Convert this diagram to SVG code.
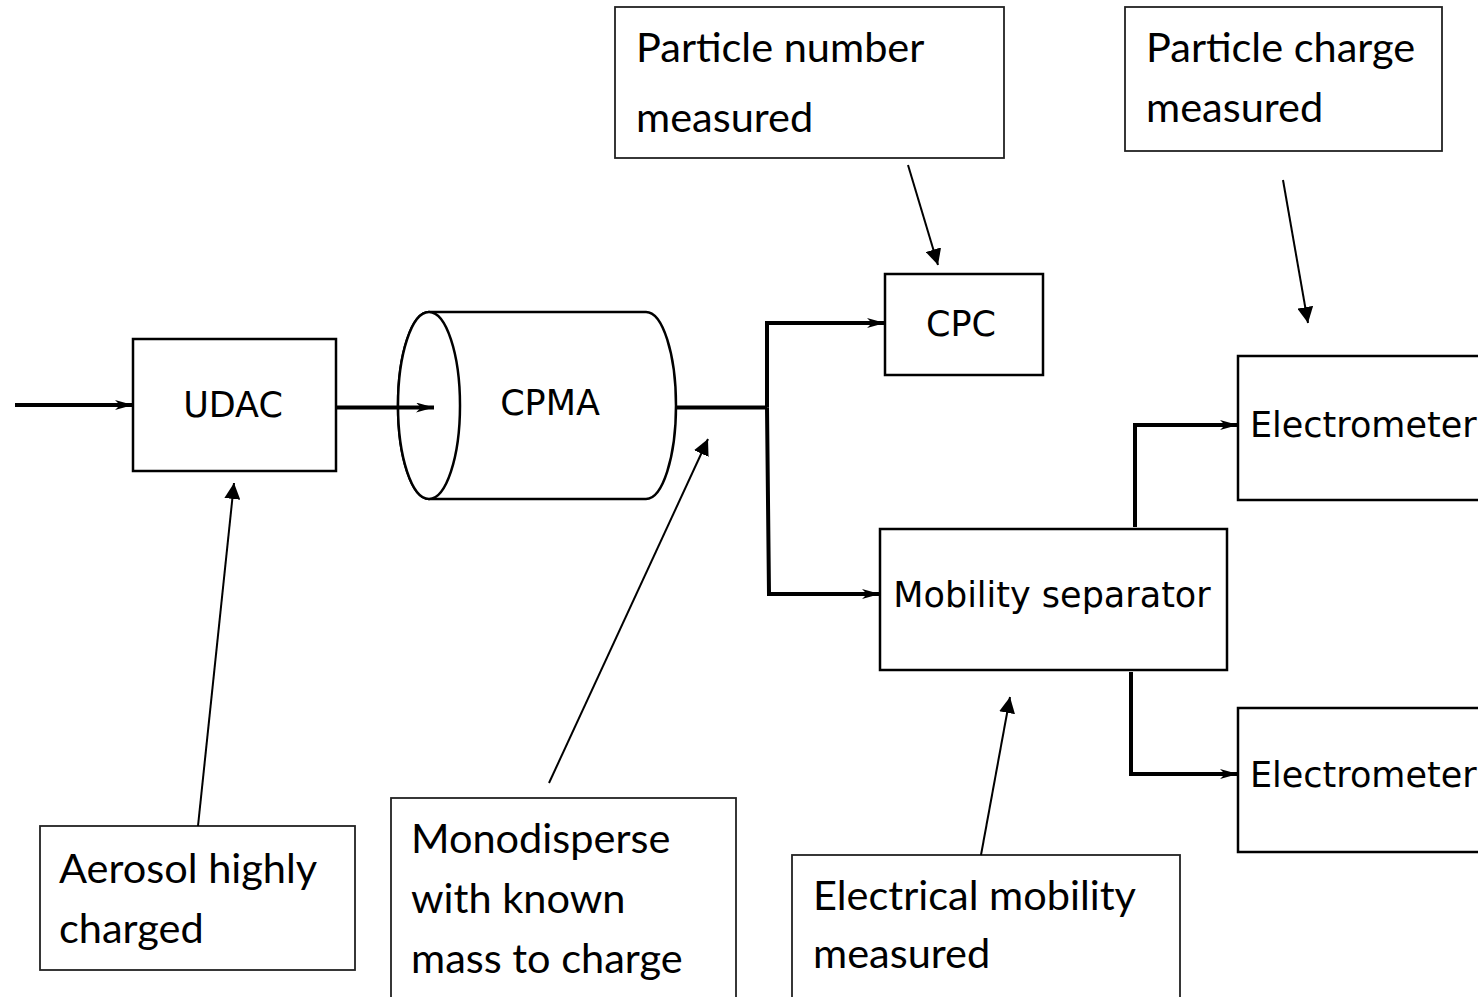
<svg xmlns="http://www.w3.org/2000/svg" width="1478" height="997" viewBox="0 0 1478 997">
<style>
.node{fill:#fff;stroke:#000;stroke-width:2.5}
.note{fill:#fff;stroke:#222;stroke-width:1.8}
.nt{font-family:"DejaVu Sans",sans-serif;font-size:35px;fill:#000}
.an{font-family:Lato,"Liberation Sans",sans-serif;font-size:41.5px;fill:#000}
.flow{fill:none;stroke:#000;stroke-width:4;marker-end:url(#fa)}
.flowp{fill:none;stroke:#000;stroke-width:4}
.ptr{fill:none;stroke:#000;stroke-width:2;marker-end:url(#pa)}
</style>
<defs>
<marker id="fa" markerUnits="userSpaceOnUse" markerWidth="18" markerHeight="10" viewBox="0 0 18 10" refX="18" refY="5" orient="auto"><path d="M0,0 L18,5 L0,10 L5,5 z" fill="#000"/></marker>
<marker id="pa" markerUnits="userSpaceOnUse" markerWidth="16" markerHeight="16" viewBox="0 0 16 16" refX="16" refY="8" orient="auto"><path d="M0,0 L16,8 L0,16 z" fill="#000"/></marker>
</defs>
<rect width="1478" height="997" fill="#fff"/>
<g id="udac"><rect class="node" x="133" y="339" width="203" height="132"/><text class="nt" x="233" y="417" text-anchor="middle">UDAC</text></g>
<g id="cpma">
<path class="node" d="M429,312 L646,312 A30,93.5 0 0 1 646,499 L429,499 A31,93.5 0 0 1 429,312 z"/>
<ellipse class="node" cx="429" cy="405.5" rx="31" ry="93.5" fill="none"/>
<text class="nt" x="550" y="415" text-anchor="middle">CPMA</text></g>
<g id="cpc"><rect class="node" x="885" y="274" width="158" height="101"/><text class="nt" x="961" y="336" text-anchor="middle">CPC</text></g>
<g id="mobility"><rect class="node" x="880" y="529" width="347" height="141"/><text class="nt" x="1052" y="607" text-anchor="middle">Mobility separator</text></g>
<g id="electrometer1"><rect class="node" x="1238" y="356" width="260" height="144"/><text class="nt" x="1250" y="437">Electrometer</text></g>
<g id="electrometer2"><rect class="node" x="1238" y="708" width="260" height="144"/><text class="nt" x="1250" y="787">Electrometer</text></g>
<g id="note-number"><rect class="note" x="615" y="7" width="389" height="151"/><text class="an" x="636" y="62">Particle number</text><text class="an" x="636" y="132">measured</text></g>
<g id="note-charge"><rect class="note" x="1125" y="7" width="317" height="144"/><text class="an" x="1146" y="62">Particle charge</text><text class="an" x="1146" y="122">measured</text></g>
<g id="note-aerosol"><rect class="note" x="40" y="826" width="315" height="144"/><text class="an" x="59" y="883">Aerosol highly</text><text class="an" x="59" y="943">charged</text></g>
<g id="note-mono"><rect class="note" x="391" y="798" width="345" height="210"/><text class="an" x="411" y="853">Monodisperse</text><text class="an" x="411" y="913">with known</text><text class="an" x="411" y="973">mass to charge</text></g>
<g id="note-mobility"><rect class="note" x="792" y="855" width="388" height="160"/><text class="an" x="813" y="910">Electrical mobility</text><text class="an" x="813" y="968">measured</text></g>
<g id="connectors">
<line class="flow" x1="15" y1="405" x2="133" y2="405"/>
<line class="flow" x1="336" y1="407.5" x2="434" y2="407.5"/>
<polyline class="flowp" points="676,407.5 767,407.5"/>
<polyline class="flow" points="767,407.5 767,323 885,323"/>
<polyline class="flow" points="767,407.5 769,594 880,594"/>
<polyline class="flow" points="1135,527 1135,425 1238,425"/>
<polyline class="flow" points="1131,672 1131,774 1238,774"/>
<line class="ptr" x1="908" y1="165" x2="938" y2="265"/>
<line class="ptr" x1="1283" y1="180" x2="1308" y2="323"/>
<line class="ptr" x1="198" y1="826" x2="234" y2="483"/>
<line class="ptr" x1="549" y1="783" x2="708" y2="439"/>
<line class="ptr" x1="981" y1="855" x2="1010" y2="697"/>
</g>
</svg>
